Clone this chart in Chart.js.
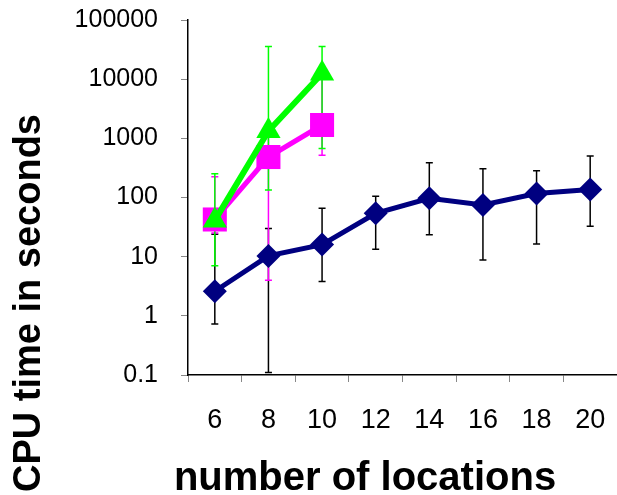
<!DOCTYPE html>
<html>
<head>
<meta charset="utf-8">
<script src="https://cdn.jsdelivr.net/npm/chart.js@4/dist/chart.umd.min.js"></script>
<style>
  body { margin: 0; background: #fff; }
  #wrap { width: 617px; height: 495px; }
</style>
</head>
<body>
<div id="wrap"><canvas id="cpu" width="617" height="495"></canvas></div>
<script>
// categories and tick labels
const locations = ['6', '8', '10', '12', '14', '16', '18', '20'];
const yTicks = [0.1, 1, 10, 100, 1000, 10000, 100000];
const yTickLabels = ['0.1', '1', '10', '100', '1000', '10000', '100000'];

// navy diamonds
const navyVals = [2.6, 10.3, 16, 54, 97, 75, 117, 137];
const navyLow = [0.73, 0.11, 3.8, 13.4, 23.5, 8.8, 16.4, 32.6];
const navyHigh = [24, 30, 66, 105, 387, 307, 284, 502];

// magenta squares
const pinkVals = [42.5, 483, 1680];
const pinkLow = [25, 4.0, 520];
const pinkHigh = [224, 1150, 11000];

// green triangles
const greenVals = [41, 1330, 12450];
const greenLow = [7.0, 134, 676];
const greenHigh = [251, 35500, 35500];

const fontName = '"Liberation Sans", Arial, sans-serif';

/* barres d'erreur, dessinées sous les marqueurs */
const errorBars = {
  id: 'errorBars',
  beforeDatasetsDraw(chart) {
    const ctx = chart.ctx;
    const y = chart.scales.y;
    // on dessine dans l'ordre inverse : le premier jeu passe au-dessus
    for (let d = chart.data.datasets.length - 1; d >= 0; d--) {
      const ds = chart.data.datasets[d];
      const meta = chart.getDatasetMeta(d);
      ctx.save();
      ctx.strokeStyle = ds.errColor;
      ctx.lineWidth = 1.5;
      meta.data.forEach((pt, i) => {
        const top = y.getPixelForValue(ds.errHigh[i]);
        const bot = y.getPixelForValue(ds.errLow[i]);
        ctx.beginPath();
        ctx.moveTo(pt.x, top); ctx.lineTo(pt.x, bot);
        ctx.moveTo(pt.x - 3.5, top); ctx.lineTo(pt.x + 3.5, top);
        ctx.moveTo(pt.x - 3.5, bot); ctx.lineTo(pt.x + 3.5, bot);
        ctx.stroke();
      });
      ctx.restore();
    }
  }
};

/* titres des axes */
const axisTitles = {
  id: 'axisTitles',
  afterDraw(chart) {
    const ctx = chart.ctx;
    ctx.save();
    ctx.fillStyle = '#000';
    ctx.textAlign = 'center';
    ctx.textBaseline = 'alphabetic';
    ctx.font = 'bold 40px ' + fontName;
    ctx.fillText('number of locations', 365, 490);
    ctx.translate(40, 303);
    ctx.rotate(-Math.PI / 2);
    ctx.font = 'bold 38px ' + fontName;
    ctx.fillText('CPU time in seconds', 0, 0);
    ctx.restore();
  }
};

const datasets = [
  {
    label: 'green', data: greenVals, errLow: greenLow, errHigh: greenHigh, errColor: '#00ff00',
    borderColor: '#00ff00', backgroundColor: '#00ff00', borderWidth: 6,
    pointStyle: 'triangle', pointRadius: 14, pointBorderWidth: 0, pointHoverRadius: 14
  },
  {
    label: 'magenta', data: pinkVals, errLow: pinkLow, errHigh: pinkHigh, errColor: '#ff00ff',
    borderColor: '#ff00ff', backgroundColor: '#ff00ff', borderWidth: 5,
    pointStyle: 'rect', pointRadius: 17, pointBorderWidth: 0, pointHoverRadius: 17
  },
  {
    label: 'navy', data: navyVals, errLow: navyLow, errHigh: navyHigh, errColor: '#000000',
    borderColor: '#000080', backgroundColor: '#000080', borderWidth: 5,
    pointStyle: 'rectRot', pointRadius: 12, pointBorderWidth: 0, pointHoverRadius: 12
  }
];

new Chart(document.getElementById('cpu').getContext('2d'), {
  type: 'line',
  data: { labels: locations, datasets },
  options: {
    responsive: false,
    animation: false,
    layout: { autoPadding: false, padding: { top: 20, right: 0, left: 0, bottom: 0 } },
    plugins: { legend: { display: false }, tooltip: { enabled: false } },
    elements: { line: { tension: 0 } },
    scales: {
      x: {
        type: 'category',
        offset: true,
        grid: { offset: true, drawOnChartArea: false, tickLength: 7, color: '#888', lineWidth: 1 },
        border: { color: '#000', width: 1.5 },
        ticks: { color: '#000', padding: 22, font: { family: fontName, size: 27 }, maxRotation: 0 },
        afterFit(scale) { scale.height = 120; scale.paddingLeft = 0; scale.paddingRight = 0; }
      },
      y: {
        type: 'logarithmic',
        min: 0.1,
        max: 100000,
        grid: { drawOnChartArea: false, tickLength: 7, color: '#888', lineWidth: 1 },
        border: { color: '#000', width: 1.5 },
        ticks: {
          color: '#000', padding: 23, font: { family: fontName, size: 25 },
          callback: (v) => { const k = yTicks.indexOf(v); return k >= 0 ? yTickLabels[k] : ''; }
        },
        afterBuildTicks(scale) { scale.ticks = yTicks.map(v => ({ value: v })); },
        afterFit(scale) { scale.width = 188; scale.paddingTop = 0; scale.paddingBottom = 0; }
      }
    }
  },
  plugins: [errorBars, axisTitles]
});
</script>
</body>
</html>
